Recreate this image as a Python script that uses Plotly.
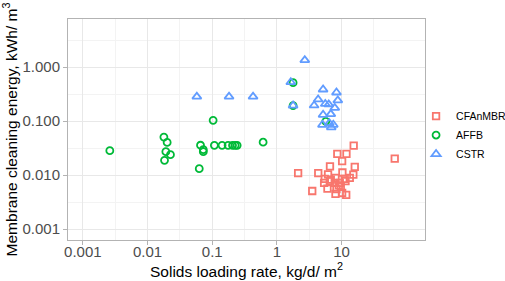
import plotly.graph_objects as go

# ---- data ----
cfanmbr_x = [15.4, 8.59, 11.9, 10.2, 16.0, 6.62, 2.13, 4.36, 6.18, 10.3, 15.2, 5.50, 6.81, 8.05, 11.2,
             13.4, 5.37, 7.85, 9.38, 11.5, 3.52, 6.05, 8.34, 9.72, 8.05, 10.2, 11.8, 66.4, 9.06, 6.58]
cfanmbr_y = [0.0351, 0.0248, 0.0248, 0.0182, 0.0142, 0.0146, 0.0109, 0.0109, 0.0103, 0.0112, 0.0102,
             0.00855, 0.0083, 0.0089, 0.00855, 0.0089, 0.00722, 0.00722, 0.00722, 0.00773, 0.00509,
             0.00562, 0.00555, 0.0061, 0.00449, 0.00468, 0.0043, 0.0202, 0.00645, 0.00778]

affb_x = [0.00261, 0.0179, 0.0201, 0.0192, 0.0226, 0.0183, 0.063, 0.0659, 0.0728, 0.0728, 0.1033,
          0.108, 0.142, 0.176, 0.206, 0.226, 0.243, 0.612, 1.78, 1.78, 5.70]
affb_y = [0.0284, 0.0507, 0.0404, 0.0272, 0.0239, 0.0188, 0.0132, 0.0358, 0.0296, 0.0272, 0.1035,
          0.0356, 0.0356, 0.0356, 0.0356, 0.0356, 0.0356, 0.0407, 0.514, 0.194, 0.0991]

cstr_x = [0.0578, 0.182, 0.428, 1.64, 1.78, 2.70, 5.18, 8.34, 4.34, 8.74, 3.76, 5.60, 6.34, 7.85,
          5.18, 6.81, 5.07, 6.46, 6.93, 7.45]
cstr_y = [0.284, 0.284, 0.284, 0.525, 0.194, 1.346, 0.385, 0.339, 0.252, 0.242, 0.195, 0.208, 0.204,
          0.176, 0.131, 0.135, 0.0855, 0.0918, 0.0769, 0.0855]

x_tickvals = [0.001, 0.01, 0.1, 1, 10]
x_ticktext = ["0.001", "0.01", "0.1", "1", "10"]
y_tickvals = [0.001, 0.01, 0.1, 1]
y_ticktext = ["0.001", "0.010", "0.100", "1.000"]
x_minor = [10 ** (-3.5), 10 ** (-2.5), 10 ** (-1.5), 10 ** (-0.5), 10 ** 0.5, 10 ** 1.5]
y_minor = [10 ** (-2.5), 10 ** (-1.5), 10 ** (-0.5), 10 ** 0.5]

series = [
    ("CFAnMBR", cfanmbr_x, cfanmbr_y, "square-open", "#F8766D", 6.5),
    ("AFFB", affb_x, affb_y, "circle-open", "#00BA38", 7),
    ("CSTR", cstr_x, cstr_y, "triangle-up-open", "#619CFF", 8),
]

FONT = "Arial, Liberation Sans, sans-serif"

fig = go.Figure()
for name, xs, ys, sym, col, sz in series:
    fig.add_trace(go.Scatter(
        x=xs, y=ys, mode="markers", name=name,
        marker=dict(symbol=sym, size=sz, color=col, line=dict(width=1.8, color=col)),
    ))

axis_common = dict(
    type="log", showline=True, mirror=True, linecolor="#b3b3b3", linewidth=1,
    ticks="outside", ticklen=4, tickcolor="#b3b3b3", tickwidth=1,
    showgrid=True, gridcolor="#e8e8e8", gridwidth=1, zeroline=False,
    tickfont=dict(family=FONT, size=15, color="#4d4d4d"),
    title_font=dict(family=FONT, size=15.5, color="#000000"),
)

fig.update_xaxes(
    **axis_common, automargin=True,
    range=[-3.23, 2.29], tickmode="array", tickvals=x_tickvals, ticktext=x_ticktext,
    ticklabelstandoff=-6,
    minor=dict(tickmode="array", tickvals=x_minor, showgrid=True, gridcolor="#f3f3f3",
               gridwidth=0.6, ticks=""),
    title=dict(text="Solids loading rate, kg/d/ m<sup>2</sup>", standoff=0),
)
fig.update_yaxes(
    **axis_common, automargin=False,
    range=[-3.2, 0.89], tickmode="array", tickvals=y_tickvals, ticktext=y_ticktext,
    minor=dict(tickmode="array", tickvals=y_minor, showgrid=True, gridcolor="#f3f3f3",
               gridwidth=0.6, ticks=""),
    title=dict(text="Membrane cleaning energy, kWh/ m<sup>3</sup>", standoff=2),
)

fig.update_layout(
    width=505, height=281,
    margin=dict(l=68, r=80, t=19, b=41, autoexpand=False),
    paper_bgcolor="white", plot_bgcolor="white",
    font=dict(family=FONT),
    legend=dict(
        x=0.975, xanchor="left", y=0.475, yanchor="middle",
        font=dict(family=FONT, size=10.5, color="#000000"),
        bgcolor="rgba(0,0,0,0)", itemwidth=30, tracegroupgap=0,
    ),
)

fig.write_html("out.html", config={"displayModeBar": False},
               post_script="document.body.style.margin='0px';")
